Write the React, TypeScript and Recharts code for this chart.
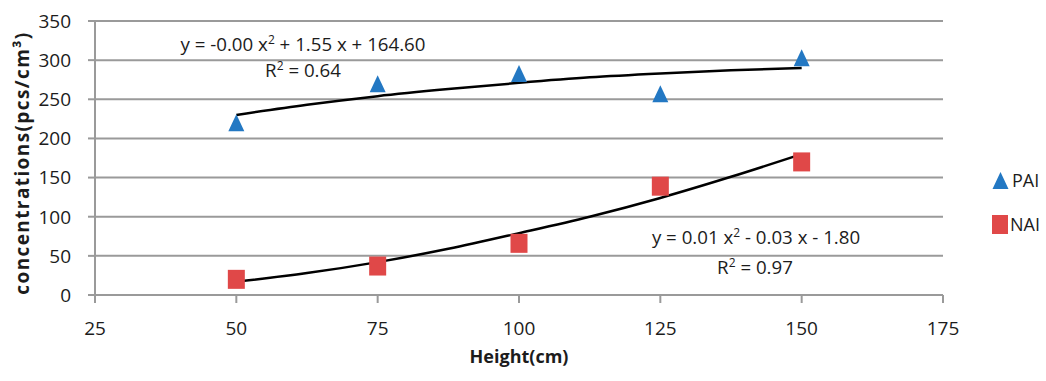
import React from "react"
import { ComposedChart, Scatter, Line, XAxis, YAxis, CartesianGrid } from "recharts"

// measured heights (cm)
const heights = [50, 75, 100, 125, 150]
const paiValues = [220, 270, 283, 257, 303]
const naiValues = [20, 37, 66, 139, 170]

// trend lines
const trendX = [50, 62.5, 75, 87.5, 100, 112.5, 125, 137.5, 150]
const paiTrend = [230, 243, 254, 263, 271, 278, 283, 287, 290]
const naiTrend = [17, 28, 42, 59, 79, 100, 124, 151, 180]

const xTicks = [25, 50, 75, 100, 125, 150, 175]
const yTicks = [0, 50, 100, 150, 200, 250, 300, 350]

const paiData = heights.map((x, i) => ({ x, y: paiValues[i] }))
const naiData = heights.map((x, i) => ({ x, y: naiValues[i] }))
const paiTrendData = trendX.map((x, i) => ({ x, y: paiTrend[i] }))
const naiTrendData = trendX.map((x, i) => ({ x, y: naiTrend[i] }))

const BLUE = "#2378c3"
const RED = "#e04848"
const GRID = "#9a9a9a"
const INK = "#1c1c1c"
const FONT = "'Open Sans', sans-serif"

const Triangle = (props: any) => {
  const { cx, cy } = props
  return <polygon points={`${cx},${cy - 8.5} ${cx - 8},${cy + 8.5} ${cx + 8},${cy + 8.5}`} fill={BLUE} />
}

const Square = (props: any) => {
  const { cx, cy } = props
  return <rect x={cx - 8.5} y={cy - 9.5} width={17} height={19} fill={RED} />
}

const XTick = (props: any) => (
  <text x={props.x} y={335} textAnchor="middle" fontFamily={FONT} fontSize={19} fill={INK}>
    {props.payload.value}
  </text>
)

const YTick = (props: any) => (
  <text x={71} y={props.y} dy="0.36em" textAnchor="end" fontFamily={FONT} fontSize={19} fill={INK}>
    {props.payload.value}
  </text>
)

const supStyle: React.CSSProperties = { fontSize: 12, position: "relative", top: "-0.55em", verticalAlign: "baseline" }

const eqStyle: React.CSSProperties = {
  position: "absolute",
  fontFamily: FONT,
  fontSize: 18.7,
  color: INK,
  whiteSpace: "nowrap",
  transform: "translateX(-50%)",
  lineHeight: 1,
}

export default function App() {
  return (
    <div style={{ position: "absolute", left: 0, top: 0, width: 1046, height: 381, background: "#fff" }}>
      <ComposedChart width={1046} height={381} margin={{ top: 21, right: 103, left: 0, bottom: 0 }}>
        <CartesianGrid horizontal vertical={false} stroke={GRID} strokeWidth={2} />
        <XAxis
          type="number"
          dataKey="x"
          domain={[25, 175]}
          ticks={xTicks}
          height={86}
          stroke={GRID}
          strokeWidth={2}
          tickSize={8}
          tick={<XTick />}
          label={(p: any) => {
            const vb = p.viewBox
            return (
              <text x={vb.x + vb.width / 2} y={363} textAnchor="middle" fontFamily={FONT} fontWeight="bold" fontSize={18} fill={INK}>
                Height(cm)
              </text>
            )
          }}
        />
        <YAxis
          type="number"
          dataKey="y"
          domain={[0, 350]}
          ticks={yTicks}
          width={95}
          stroke={GRID}
          strokeWidth={2}
          tickSize={7}
          tick={<YTick />}
          label={() => (
            <text
              x={29}
              y={163}
              transform="rotate(-90 29 163)"
              textAnchor="middle"
              fontFamily={FONT}
              fontWeight="bold"
              fontSize={19}
              letterSpacing={1.4}
              fill={INK}
            >
              concentrations(pcs/cm³)
            </text>
          )}
        />
        <Line data={paiTrendData} dataKey="y" type="monotone" stroke="#000" strokeWidth={2.5} dot={false} isAnimationActive={false} />
        <Line data={naiTrendData} dataKey="y" type="monotone" stroke="#000" strokeWidth={2.5} dot={false} isAnimationActive={false} />
        <Scatter name="PAI" data={paiData} dataKey="y" shape={Triangle} isAnimationActive={false} />
        <Scatter name="NAI" data={naiData} dataKey="y" shape={Square} isAnimationActive={false} />
      </ComposedChart>

      <div style={{ ...eqStyle, left: 303, top: 35 }}>
        y = -0.00 x<span style={supStyle}>2</span> + 1.55 x + 164.60
      </div>
      <div style={{ ...eqStyle, left: 303, top: 61 }}>
        R<span style={supStyle}>2</span> = 0.64
      </div>
      <div style={{ ...eqStyle, left: 756, top: 228 }}>
        y = 0.01 x<span style={supStyle}>2</span> - 0.03 x - 1.80
      </div>
      <div style={{ ...eqStyle, left: 755, top: 258 }}>
        R<span style={supStyle}>2</span> = 0.97
      </div>

      <div style={{ position: "absolute", left: 992, top: 170, fontFamily: FONT, fontSize: 18, color: INK }}>
        <div style={{ display: "flex", alignItems: "center", height: 20 }}>
          <svg width={17} height={17} style={{ marginRight: 3 }}>
            <polygon points="8.5,0 0.5,17 16.5,17" fill={BLUE} />
          </svg>
          PAI
        </div>
        <div style={{ display: "flex", alignItems: "center", height: 20, marginTop: 24 }}>
          <svg width={16} height={19} style={{ marginRight: 2 }}>
            <rect x={0} y={0} width={16} height={19} fill={RED} />
          </svg>
          NAI
        </div>
      </div>
    </div>
  )
}
